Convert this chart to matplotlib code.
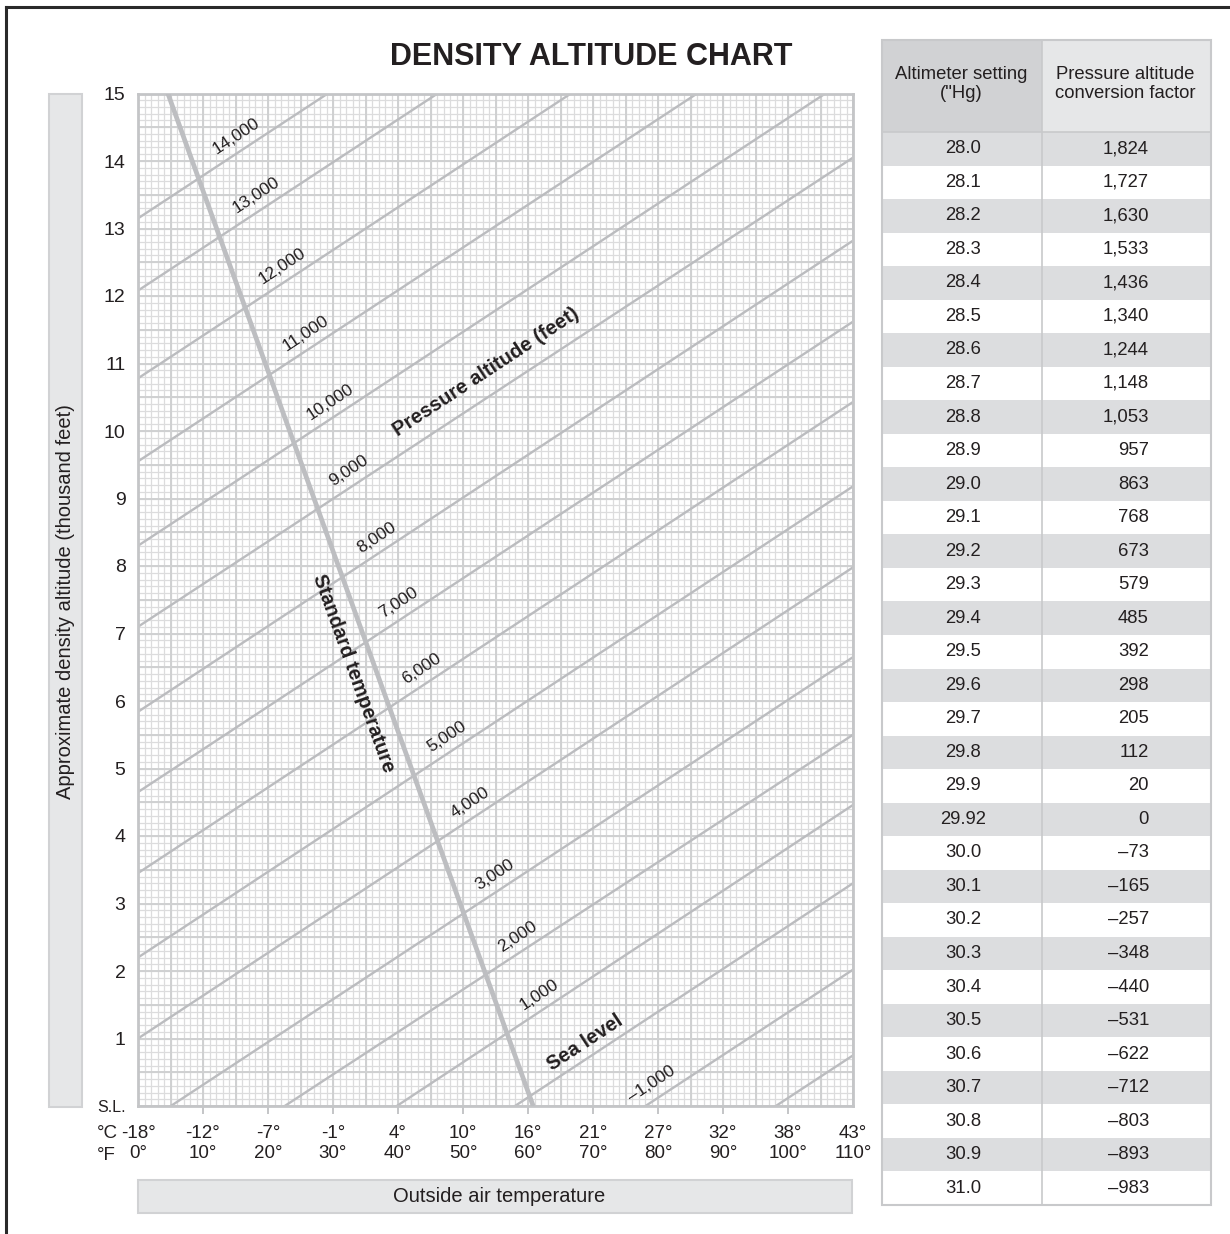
import numpy as np
import matplotlib.pyplot as plt
from matplotlib.patches import Rectangle

plt.rcParams['font.family'] = ['Liberation Sans', 'DejaVu Sans']

# pressure altitude lines: label and density altitude (thousand ft) read at 0°F and 110°F
pa_labels = ["14,000", "13,000", "12,000", "11,000", "10,000", "9,000", "8,000",
             "7,000", "6,000", "5,000", "4,000", "3,000", "2,000", "1,000",
             "Sea level", "\u20131,000", ""]
da_at_0f = [13.15, 12.08, 10.78, 9.55, 8.30, 7.10, 5.84, 4.65, 3.45, 2.20, 1.00,
            -0.32, -1.42, -2.53, -3.68, -4.94, -6.20]
da_at_110f = [20.12, 19.05, 17.75, 16.52, 15.27, 14.05, 12.82, 11.62, 10.43, 9.18, 7.98,
              6.65, 5.50, 4.46, 3.30, 2.02, 0.75]

# standard temperature line (°F, thousand ft)
std_temp_f = [60.8, 4.6]
std_da = [0, 15]

# axis tick labels
temp_f = [0, 10, 20, 30, 40, 50, 60, 70, 80, 90, 100, 110]
temp_c = ["-18°", "-12°", "-7°", "-1°", "4°", "10°", "16°", "21°", "27°", "32°", "38°", "43°"]
alt_ticks = list(range(16))
alt_labels = ["S.L."] + [str(i) for i in range(1, 16)]

# conversion table
altimeter = ["28.0", "28.1", "28.2", "28.3", "28.4", "28.5", "28.6", "28.7", "28.8", "28.9",
             "29.0", "29.1", "29.2", "29.3", "29.4", "29.5", "29.6", "29.7", "29.8", "29.9",
             "29.92", "30.0", "30.1", "30.2", "30.3", "30.4", "30.5", "30.6", "30.7", "30.8",
             "30.9", "31.0"]
factor = ["1,824", "1,727", "1,630", "1,533", "1,436", "1,340", "1,244", "1,148", "1,053",
          "957", "863", "768", "673", "579", "485", "392", "298", "205", "112", "20", "0",
          "\u201373", "\u2013165", "\u2013257", "\u2013348", "\u2013440", "\u2013531", "\u2013622",
          "\u2013712", "\u2013803", "\u2013893", "\u2013983"]

# where along each line (°F) its label sits
label_f = [16.4, 19.4, 23.4, 27.1, 30.8, 33.7, 37.9, 41.4, 44.9, 48.8, 52.3, 56.2,
           59.6, 63.0, 70.0, 80.3]

W, H = 1230, 1234
txt = '#231f20'
fig = plt.figure(figsize=(W / 100, H / 100), dpi=100)

# overlay in pixel units for frame, boxes, title and table
ov = fig.add_axes([0, 0, 1, 1])
ov.set_xlim(0, W)
ov.set_ylim(H, 0)
ov.axis('off')

ov.plot([6, 6], [H, 7], color='#2a2a2a', lw=2.2)
ov.plot([6, W], [7, 7], color='#2a2a2a', lw=2.2)

ov.text(591, 57, "DENSITY ALTITUDE CHART", fontsize=22, weight='bold',
        ha='center', va='center', color=txt)

ov.add_patch(Rectangle((49, 94), 33, 1013, fc='#e6e7e8', ec='#d1d2d4', lw=1.5))
ov.text(66, 602, "Approximate density altitude (thousand feet)", rotation=90,
        fontsize=14.5, ha='center', va='center', color=txt)
ov.add_patch(Rectangle((138, 1180), 714, 33, fc='#e6e7e8', ec='#d1d2d4', lw=1.5))
ov.text(499, 1196, "Outside air temperature", fontsize=14.5, ha='center',
        va='center', color=txt)
ov.text(97, 1134, "°C", fontsize=13.5, ha='left', va='center', color=txt)
ov.text(97, 1155, "°F", fontsize=13.5, ha='left', va='center', color=txt)

# table
tx0, tx1, tmid = 882, 1211, 1042
ty0, thead, ty1 = 40, 132, 1205
ov.add_patch(Rectangle((tx0, ty0), tmid - tx0, thead - ty0, fc='#d1d2d4', ec='none'))
ov.add_patch(Rectangle((tmid, ty0), tx1 - tmid, thead - ty0, fc='#e6e7e8', ec='none'))
row_h = (ty1 - thead) / len(altimeter)
for i, (a, f) in enumerate(zip(altimeter, factor)):
    y0 = thead + i * row_h
    if i % 2 == 0:
        ov.add_patch(Rectangle((tx0, y0), tx1 - tx0, row_h, fc='#dcdddf', ec='none'))
    ov.text(963, y0 + row_h / 2, a, fontsize=13.3, ha='center', va='center', color=txt)
    ov.text(1149, y0 + row_h / 2, f, fontsize=13.3, ha='right', va='center', color=txt)
ov.add_patch(Rectangle((tx0, ty0), tx1 - tx0, ty1 - ty0, fc='none', ec='#c8c9cb', lw=1.5))
ov.plot([tmid, tmid], [ty0, ty1], color='#c8c9cb', lw=1.2)
ov.plot([tx0, tx1], [thead, thead], color='#c8c9cb', lw=1.2)
ov.text(961, 84, "Altimeter setting\n(\"Hg)", fontsize=13.3, ha='center', va='center',
        linespacing=1.2, color=txt)
ov.text(1125, 84, "Pressure altitude\nconversion factor", fontsize=13.3, ha='center',
        va='center', linespacing=1.2, color=txt)

# chart
ax = fig.add_axes([138 / W, 1 - 1106 / H, (853 - 138) / W, (1106 - 93.5) / H])
ax.set_xlim(0, 110)
ax.set_ylim(0, 15)

ax.vlines(np.arange(0, 111, 1), 0, 15, color='#dcdcdd', lw=0.9, zorder=1)
ax.hlines(np.arange(0, 15.01, 0.1), 0, 110, color='#dcdcdd', lw=0.9, zorder=1)
ax.vlines(np.arange(0, 111, 5), 0, 15, color='#cfd0d1', lw=1.4, zorder=1)
ax.hlines(np.arange(0, 15.01, 0.5), 0, 110, color='#cfd0d1', lw=1.4, zorder=1)

for a, b in zip(da_at_0f, da_at_110f):
    ax.plot([0, 110], [a, b], color='#bbbcbf', lw=1.7, zorder=2)
ax.plot(std_temp_f, std_da, color='#bdbec1', lw=3.4, zorder=3, solid_capstyle='butt')

for s in ax.spines.values():
    s.set_color('#c4c5c7')
    s.set_linewidth(2)

ax.set_yticks(alt_ticks)
ax.set_yticklabels(alt_labels)
ax.tick_params(axis='y', length=0, pad=9, labelsize=14, labelcolor=txt)
ax.get_yticklabels()[0].set_fontsize(11.5)
ax.set_xticks(temp_f)
ax.set_xticklabels([c + "\n" + str(f) + "°" for c, f in zip(temp_c, temp_f)],
                   linespacing=1.2)
ax.tick_params(axis='x', length=6, width=1.4, color='#c4c5c7', pad=8,
               labelsize=13.5, labelcolor=txt)
ticks = ax.xaxis.get_major_ticks()
ticks[0].tick1line.set_visible(False)
ticks[-1].tick1line.set_visible(False)

# label angle along the pressure lines
p = ax.transData.transform([[0, da_at_0f[0]], [110, da_at_110f[0]]])
ang = np.degrees(np.arctan2(p[1, 1] - p[0, 1], p[1, 0] - p[0, 0]))
d = 10.5
off = (-np.sin(np.radians(ang)) * d, np.cos(np.radians(ang)) * d)
for lab, tf, a, b in zip(pa_labels, label_f, da_at_0f, da_at_110f):
    y = a + (b - a) * tf / 110
    bold = lab == "Sea level"
    ax.annotate(lab, (tf, y), xytext=off, textcoords='offset points', rotation=ang,
                rotation_mode='anchor', ha='center', va='center',
                fontsize=14.5 if bold else 12.5, weight='bold' if bold else 'normal',
                color=txt, zorder=4)

ax.text(53.5, 10.87, "Pressure altitude (feet)", rotation=ang, rotation_mode='anchor',
        ha='center', va='center', fontsize=14.5, weight='bold', color=txt, zorder=4)

q = ax.transData.transform([[std_temp_f[1], std_da[1]], [std_temp_f[0], std_da[0]]])
ang_std = np.degrees(np.arctan2(q[1, 1] - q[0, 1], q[1, 0] - q[0, 0]))
ax.text(33.1, 6.41, "Standard temperature", rotation=ang_std, rotation_mode='anchor',
        ha='center', va='center', fontsize=14.5, weight='bold', color=txt, zorder=4)

fig.savefig("out.png", dpi=100)
